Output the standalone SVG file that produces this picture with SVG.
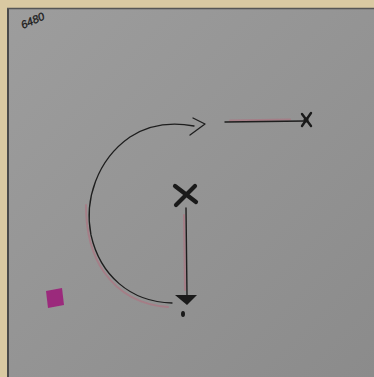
<svg xmlns="http://www.w3.org/2000/svg" width="374" height="377" viewBox="0 0 374 377">
<defs>
<linearGradient id="paper" x1="0" y1="0" x2="1" y2="1">
<stop offset="0" stop-color="#9d9d9d"/>
<stop offset="1" stop-color="#8b8b8b"/>
</linearGradient>
<style>
.ink{fill:none;stroke:#1e1e1e;stroke-linecap:round;stroke-linejoin:round}
.pink{fill:none;stroke:#b0707e;stroke-linecap:round;opacity:0.6}
.xmark{fill:none;stroke:#1a1a1a;stroke-linecap:round}
</style>
</defs>
<rect x="0" y="0" width="374" height="377" fill="#d9c9a2"/>
<rect x="7" y="8" width="367" height="369" fill="url(#paper)"/>
<line x1="8" y1="8" x2="8" y2="377" stroke="#4a4a4a" stroke-width="2"/>
<line x1="7" y1="8.5" x2="374" y2="8.5" stroke="#555" stroke-width="1.5"/>
<text x="23" y="29" transform="rotate(-24 23 29)" font-family="Liberation Sans, sans-serif" font-size="11" font-style="italic" fill="#1a1a1a" stroke="#1a1a1a" stroke-width="0.3">6480</text>
<g id="connectors">
<path class="pink" stroke-width="2" d="M86 205 C86 235 92 255 104 272 C118 292 140 305 168 307"/>
<path class="ink" stroke-width="1.3" d="M172 303 C130 302 100 275 91 235 C84 200 97 160 130 137 C150 124 172 122 194 126"/>
<path class="ink" stroke-width="1.3" d="M193 118 L205 124 L190 135"/>
<line class="pink" stroke-width="2" x1="230" y1="120.5" x2="290" y2="119.5"/>
<line class="ink" stroke-width="1.4" x1="225" y1="122" x2="305" y2="121"/>
<line class="pink" stroke-width="2" x1="184" y1="215" x2="185" y2="290"/>
<line class="ink" stroke-width="1.4" x1="186" y1="208" x2="187" y2="296"/>
<path d="M175 295 L197 295 L187 305 Z" fill="#1a1a1a"/>
</g>
<g id="node-x-top">
<path class="xmark" stroke-width="2.4" d="M302 114 L311 126 M311 113 L302 126"/>
<circle cx="306" cy="120" r="2.5" fill="#1a1a1a"/>
</g>
<g id="node-x-mid">
<path class="xmark" stroke-width="4.2" d="M175 186 L196 202 M195 186 L176 205"/>
</g>
<g id="node-end">
<ellipse cx="183" cy="314" rx="2" ry="3" fill="#1a1a1a"/>
</g>
<g id="node-square">
<path d="M46 291 L62 288 L64 305 L48 308 Z" fill="#9b2a7c"/>
</g>
</svg>
